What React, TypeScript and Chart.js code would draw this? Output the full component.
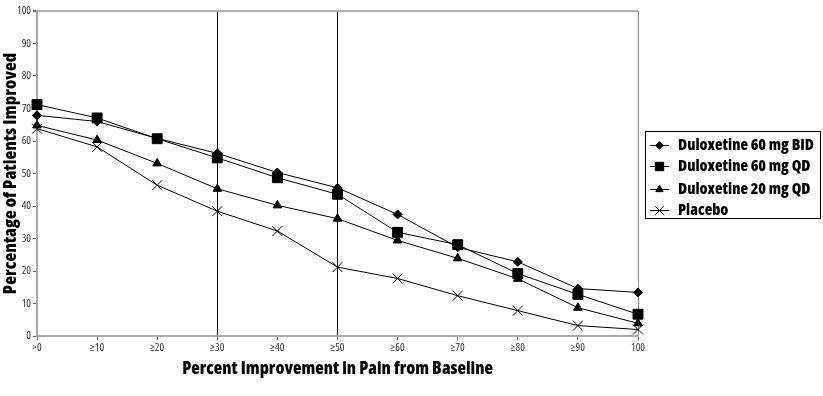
import { useEffect, useRef } from 'react';
import { Chart, registerables } from 'chart.js';
import { drawPoint } from 'chart.js/helpers';

Chart.register(...registerables);

const categories = ['>0', '≥10', '≥20', '≥30', '≥40', '≥50', '≥60', '≥70', '≥80', '≥90', '100'];
const seriesNames = ['Duloxetine 60 mg BID', 'Duloxetine 60 mg QD', 'Duloxetine 20 mg QD', 'Placebo'];
const dulox60BID = [67.9, 66.0, 60.8, 56.2, 50.3, 45.6, 37.4, 27.3, 22.8, 14.6, 13.4];
const dulox60QD = [71.2, 67.1, 60.7, 54.8, 48.7, 43.6, 31.9, 28.1, 19.2, 12.8, 6.7];
const dulox20QD = [64.8, 60.3, 53.1, 45.3, 40.2, 36.1, 29.4, 23.9, 17.6, 8.7, 3.9];
const placebo = [63.8, 58.2, 46.4, 38.4, 32.3, 21.2, 17.7, 12.4, 7.8, 3.2, 2.0];
const markedCategories = ['≥30', '≥50'];
const yTicksMax = 100;
const yTicksStep = 10;

const FONT = "'Open Sans', sans-serif";

const legendPlugin = {
  id: 'boxLegend',
  afterDraw(chart: any) {
    const ctx = chart.ctx;
    ctx.save();
    ctx.strokeStyle = '#000';
    ctx.fillStyle = '#000';
    ctx.lineWidth = 1;
    ctx.strokeRect(645.5, 131.5, 175, 87);
    const rows = [145, 166, 189, 210];
    ctx.font = `normal 800 condensed 15.6px ${FONT}`;
    ctx.textBaseline = 'middle';
    ctx.textAlign = 'left';
    chart.data.datasets.forEach((ds: any, i: number) => {
      const y = rows[i];
      ctx.strokeStyle = '#000';
      ctx.fillStyle = '#000';
      ctx.lineWidth = 1;
      ctx.beginPath();
      ctx.moveTo(650, y + 0.5);
      ctx.lineTo(669, y + 0.5);
      ctx.stroke();
      drawPoint(ctx, { pointStyle: ds.pointStyle, radius: ds.pointRadius * 0.85, borderWidth: 1, rotation: 0 }, 659.5, y + 0.5);
      ctx.fillStyle = '#000';
      ctx.fillText(ds.label, 678, y + 0.5);
    });
    ctx.restore();
  },
};

export default function App() {
  const ref = useRef<HTMLCanvasElement>(null);
  useEffect(() => {
    const mk = (label: string, data: number[], style: string, r: number) => ({
      label,
      data,
      borderColor: '#000',
      backgroundColor: '#000',
      borderWidth: 1,
      pointStyle: style,
      pointRadius: r,
      pointBorderWidth: 1,
      pointBackgroundColor: '#000',
      pointBorderColor: '#000',
      tension: 0,
      fill: false,
    });
    const chart = new Chart(ref.current!, {
      type: 'line',
      data: {
        labels: categories,
        datasets: [
          mk(seriesNames[0], dulox60BID, 'rectRot', 4.5),
          mk(seriesNames[1], dulox60QD, 'rect', 7),
          mk(seriesNames[2], dulox20QD, 'triangle', 5),
          mk(seriesNames[3], placebo, 'crossRot', 7),
        ],
      },
      options: {
        animation: false,
        responsive: true,
        maintainAspectRatio: false,
        layout: { padding: { top: 11, right: 185, left: 0, bottom: 0 } },
        plugins: { legend: { display: false }, tooltip: { enabled: false } },
        scales: {
          x: {
            type: 'category',
            offset: false,
            border: { display: true, color: '#a8a8a8', width: 2 },
            grid: {
              display: true,
              drawOnChartArea: true,
              drawTicks: true,
              tickLength: 4,
              tickColor: '#666',
              lineWidth: 1,
              color: (c: any) => {
                const lbl = categories[c.index];
                if (markedCategories.includes(lbl)) return '#000';
                if (c.index === categories.length - 1) return '#888';
                return 'rgba(0,0,0,0)';
              },
            },
            ticks: {
              color: '#333',
              font: { family: FONT, size: 11, weight: 'normal condensed' },
              maxRotation: 0,
              autoSkip: false,
              padding: 1,
            },
            title: {
              display: true,
              text: 'Percent Improvement in Pain from Baseline',
              color: '#000',
              font: { family: FONT, size: 17.5, weight: '800 condensed' },
              padding: { top: 6, bottom: 16 },
            },
            afterFit: (s: any) => { s.height = 60; },
          },
          y: {
            min: 0,
            max: yTicksMax,
            border: { display: true, color: '#a8a8a8', width: 2 },
            grid: {
              display: true,
              drawTicks: true,
              tickLength: 4,
              tickColor: '#666',
              color: (c: any) => (c.tick && c.tick.value === yTicksMax ? '#b0b0b0' : 'rgba(0,0,0,0)'),
              lineWidth: (c: any) => (c.tick && c.tick.value === yTicksMax ? 2 : 1),
            },
            ticks: {
              stepSize: yTicksStep,
              color: '#333',
              font: { family: FONT, size: 11, weight: 'normal condensed' },
              padding: 2,
            },
            title: {
              display: true,
              text: 'Percentage of Patients Improved',
              color: '#000',
              font: { family: FONT, size: 18, weight: '800 condensed' },
              padding: { top: 0, bottom: 2 },
            },
            afterFit: (s: any) => { s.width = 37; },
          },
        },
      },
      plugins: [legendPlugin],
    });
    return () => chart.destroy();
  }, []);
  return (
    <div style={{ position: 'fixed', left: 0, top: 0, width: 823, height: 396, background: '#fff' }}>
      <canvas ref={ref} />
    </div>
  );
}
